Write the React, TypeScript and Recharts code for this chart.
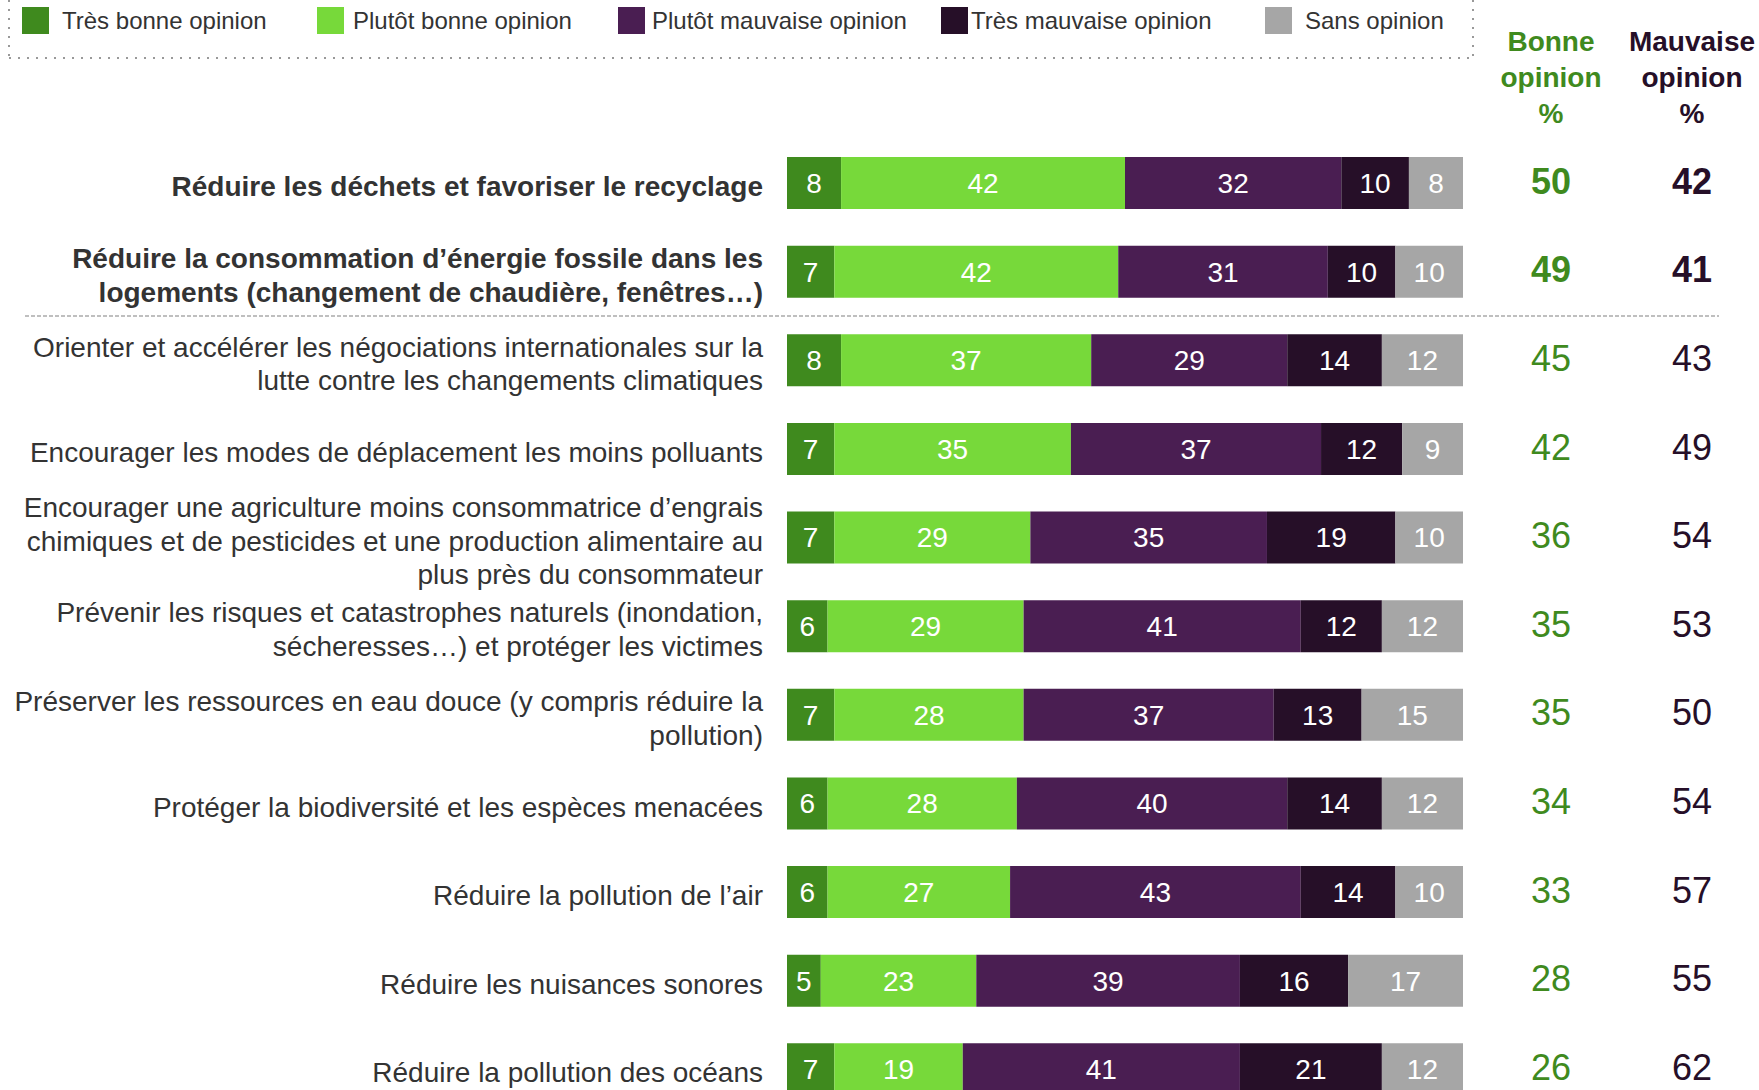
import React from "react";
import { BarChart, Bar, XAxis, YAxis, LabelList, Legend } from "recharts";

const categories = [
  "Réduire les déchets et favoriser le recyclage",
  "Réduire la consommation d’énergie fossile dans les\nlogements (changement de chaudière, fenêtres…)",
  "Orienter et accélérer les négociations internationales sur la\nlutte contre les changements climatiques",
  "Encourager les modes de déplacement les moins polluants",
  "Encourager une agriculture moins consommatrice d’engrais\nchimiques et de pesticides et une production alimentaire au\nplus près du consommateur",
  "Prévenir les risques et catastrophes naturels (inondation,\nsécheresses…) et protéger les victimes",
  "Préserver les ressources en eau douce (y compris réduire la\npollution)",
  "Protéger la biodiversité et les espèces menacées",
  "Réduire la pollution de l’air",
  "Réduire les nuisances sonores",
  "Réduire la pollution des océans",
];

const tresBonne = [8, 7, 8, 7, 7, 6, 7, 6, 6, 5, 7];
const plutotBonne = [42, 42, 37, 35, 29, 29, 28, 28, 27, 23, 19];
const plutotMauvaise = [32, 31, 29, 37, 35, 41, 37, 40, 43, 39, 41];
const tresMauvaise = [10, 10, 14, 12, 19, 12, 13, 14, 14, 16, 21];
const sansOpinion = [8, 10, 12, 9, 10, 12, 15, 12, 10, 17, 12];
const bonneOpinion = [50, 49, 45, 42, 36, 35, 35, 34, 33, 28, 26];
const mauvaiseOpinion = [42, 41, 43, 49, 54, 53, 50, 54, 57, 55, 62];

const seriesNames = [
  "Très bonne opinion",
  "Plutôt bonne opinion",
  "Plutôt mauvaise opinion",
  "Très mauvaise opinion",
  "Sans opinion",
];
const BOLD_ROWS = 2;

const COLORS = ["#3F8A1E", "#77D93A", "#4A1E52", "#260F28", "#A6A6A6"];
const GREEN_TEXT = "#3F8A1E";
const DARK_TEXT = "#260F28";
const FONT = "'Liberation Sans', Arial, sans-serif";

const data = categories.map((name, i) => ({
  name,
  tb: tresBonne[i],
  pb: plutotBonne[i],
  pm: plutotMauvaise[i],
  tm: tresMauvaise[i],
  so: sansOpinion[i],
  bonne: bonneOpinion[i],
  mauvaise: mauvaiseOpinion[i],
}));

const keys = ["tb", "pb", "pm", "tm", "so"];

const LABEL_X = 763;
const LINE_H = 33.7;
const LEGEND_H = 60;

const CategoryTick = (props: any) => {
  const { y, payload, index } = props;
  const lines = String(payload.value).split("\n");
  const bold = index < BOLD_ROWS;
  const start = -((lines.length - 1) / 2) * LINE_H + 3;
  return (
    <text
      x={LABEL_X}
      y={y}
      textAnchor="end"
      fontFamily={FONT}
      fontSize={28}
      fontWeight={bold ? 700 : 400}
      fill="#333333"
    >
      {lines.map((l, k) => (
        <tspan key={k} x={LABEL_X} y={y + start + k * LINE_H} dy="0.35em">
          {l}
        </tspan>
      ))}
    </text>
  );
};

const makeColumnLabel = (cx: number, color: string) => (props: any) => {
  const { y, height, value, index } = props;
  const bold = index < BOLD_ROWS;
  return (
    <text
      x={cx}
      y={y + height / 2 - 2}
      dy="0.35em"
      textAnchor="middle"
      fontFamily={FONT}
      fontSize={36}
      fontWeight={bold ? 700 : 400}
      fill={color}
    >
      {value}
    </text>
  );
};

const LegendContent = () => {
  const itemX = [22, 317, 618, 941, 1265];
  return (
    <div style={{ position: "relative", width: 1759, height: LEGEND_H }}>
      {seriesNames.map((n, i) => (
        <div key={n}>
          <div
            style={{
              position: "absolute",
              left: itemX[i],
              top: 7,
              width: 27,
              height: 27,
              background: COLORS[i],
            }}
          />
          <div
            style={{
              position: "absolute",
              left: itemX[i] + (i === 3 ? 30 : i === 2 ? 34 : i === 1 ? 36 : 40),
              top: 7,
              fontFamily: FONT,
              fontSize: 24,
              lineHeight: "28px",
              color: "#333333",
              whiteSpace: "nowrap",
            }}
          >
            {n}
          </div>
        </div>
      ))}
    </div>
  );
};

export default function App() {
  return (
    <div
      style={{
        position: "absolute",
        left: 0,
        top: 0,
        width: 1759,
        height: 1090,
        overflow: "hidden",
        background: "#ffffff",
      }}
    >
      <BarChart
        width={1759}
        height={1133}
        data={data}
        layout="vertical"
        barSize={52}
        margin={{ top: 139 - LEGEND_H, right: 296, bottom: 19, left: 0 }}
      >
        <XAxis type="number" domain={[0, 100]} hide />
        <YAxis
          type="category"
          dataKey="name"
          width={787}
          axisLine={false}
          tickLine={false}
          interval={0}
          tick={<CategoryTick />}
        />
        <Legend
          verticalAlign="top"
          height={LEGEND_H}
          content={<LegendContent />}
          wrapperStyle={{ position: "absolute", top: 0, left: 0, width: 1759, height: LEGEND_H }}
        />
        {keys.map((k, i) => (
          <Bar
            key={k}
            dataKey={k}
            name={seriesNames[i]}
            stackId="s"
            fill={COLORS[i]}
            isAnimationActive={false}
          >
            <LabelList
              dataKey={k}
              position="center"
              fill="#ffffff"
              fontSize={28}
              fontFamily={FONT}
            />
            {i === keys.length - 1 && (
              <LabelList dataKey="bonne" content={makeColumnLabel(1551, GREEN_TEXT)} />
            )}
            {i === keys.length - 1 && (
              <LabelList dataKey="mauvaise" content={makeColumnLabel(1692, DARK_TEXT)} />
            )}
          </Bar>
        ))}
      </BarChart>
      <svg
        width={1759}
        height={1090}
        style={{ position: "absolute", left: 0, top: 0, pointerEvents: "none" }}
      >
        <line x1={9} y1={0} x2={9} y2={58} stroke="#999" strokeWidth={2} strokeDasharray="2 7" />
        <line x1={9} y1={58} x2={1473} y2={58} stroke="#999" strokeWidth={2} strokeDasharray="2 7" />
        <line x1={1473} y1={0} x2={1473} y2={58} stroke="#999" strokeWidth={2} strokeDasharray="2 7" />
        <line x1={25} y1={316} x2={1719} y2={316} stroke="#aaa" strokeWidth={1.5} strokeDasharray="4 2" />
        {[
          { x: 1551, c: GREEN_TEXT, t: ["Bonne", "opinion", "%"] },
          { x: 1692, c: DARK_TEXT, t: ["Mauvaise", "opinion", "%"] },
        ].map((h) => (
          <text
            key={h.x}
            x={h.x}
            textAnchor="middle"
            fontFamily={FONT}
            fontSize={28}
            fontWeight={700}
            fill={h.c}
          >
            {h.t.map((l, k) => (
              <tspan key={k} x={h.x} y={41 + k * 36} dy="0.35em">
                {l}
              </tspan>
            ))}
          </text>
        ))}
      </svg>
    </div>
  );
}
